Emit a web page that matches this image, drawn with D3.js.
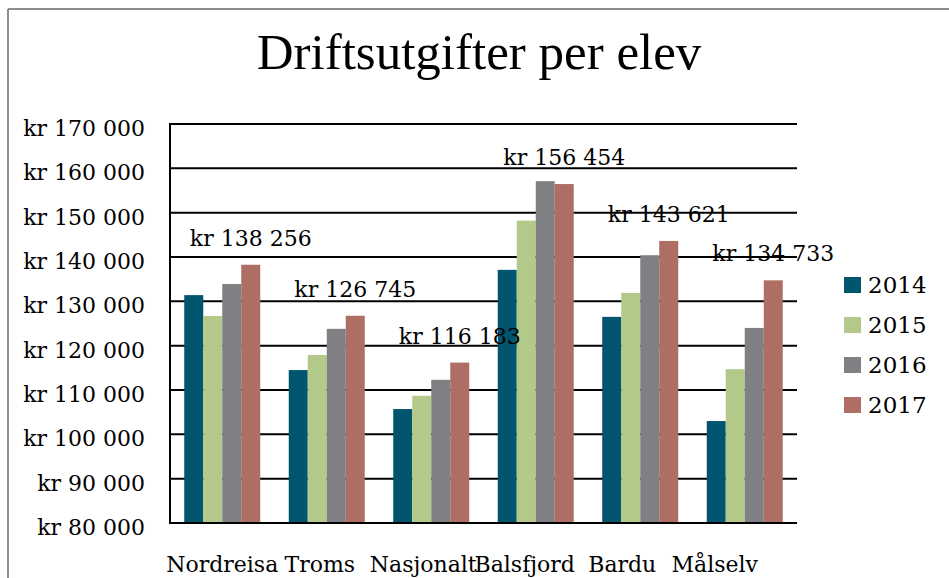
<!DOCTYPE html>
<html>
<head>
<meta charset="utf-8">
<script src="https://cdn.jsdelivr.net/npm/d3@7"></script>
<style>
    body { margin: 0; background: #fff; }
    svg { display: block; }
    text { font-family: 'DejaVu Serif', serif; fill: #000; }
</style>
</head>
<body>
<svg width="949" height="578"></svg>
<script>
// Data
const categories = ['Nordreisa', 'Troms', 'Nasjonalt', 'Balsfjord', 'Bardu', 'Målselv'];
const years = ['2014', '2015', '2016', '2017'];
const v2014 = [131400, 114500, 105700, 137100, 126500, 103000];
const v2015 = [126700, 117900, 108700, 148200, 131900, 114700];
const v2016 = [133900, 123800, 112300, 157100, 140400, 124000];
const v2017 = [138256, 126745, 116183, 156454, 143621, 134733];
const yTicks = [80000, 90000, 100000, 110000, 120000, 130000, 140000, 150000, 160000, 170000];
const colors = ['#02556e', '#b3c98a', '#7f7f84', '#ae6e64'];

(() => {
    const series = [v2014, v2015, v2016, v2017];

    // the original packs the category labels leftwards, nudge them to match
    const labelShift = [0, -7, -8, -11, -18, -30];

    const svg = d3.select('svg');

    // Chart frame (only top and left edges show)
    svg.append('line')
            .attr('x1', 8).attr('y1', 9).attr('x2', 949).attr('y2', 9)
            .attr('stroke', '#8c8c8c').attr('stroke-width', 2);
    svg.append('line')
            .attr('x1', 8).attr('y1', 9).attr('x2', 8).attr('y2', 578)
            .attr('stroke', '#8c8c8c').attr('stroke-width', 2);

    svg.append('text')
            .attr('x', 479)
            .attr('y', 69)
            .attr('text-anchor', 'middle')
            .style('font-family', "'Liberation Serif', serif")
            .style('font-size', '51px')
            .text('Driftsutgifter per elev');

    const x = d3.scaleBand()
            .domain(categories)
            .range([170, 797])
            .paddingInner(1.5 / 5.5)
            .paddingOuter(0.75 / 5.5);

    const xInner = d3.scaleBand()
            .domain(years)
            .range([0, x.bandwidth()]);

    const y = d3.scaleLinear()
            .domain([80000, 170000])
            .range([523, 124]);

    const fmt = v => 'kr ' + d3.format(',')(v).replace(/,/g, ' ');

    // Gridlines
    svg.append('g')
            .selectAll('line')
            .data(yTicks.slice(1))
            .enter().append('line')
            .attr('x1', 170).attr('x2', 797)
            .attr('y1', d => y(d)).attr('y2', d => y(d))
            .attr('stroke', '#000').attr('stroke-width', 2);

    // Y tick labels
    svg.append('g')
            .selectAll('text')
            .data(yTicks)
            .enter().append('text')
            .attr('x', 145)
            .attr('y', d => y(d) + 12)
            .attr('text-anchor', 'end')
            .style('font-size', '22px')
            .text(fmt);

    // Bars
    const groups = svg.append('g')
            .selectAll('g')
            .data(categories)
            .enter().append('g')
            .attr('transform', d => `translate(${x(d)},0)`);

    groups.selectAll('rect')
            .data((d, i) => series.map((s, k) => ({ year: years[k], value: s[i], k })))
            .enter().append('rect')
            .attr('x', d => xInner(d.year))
            .attr('width', xInner.bandwidth())
            .attr('y', d => y(d.value))
            .attr('height', d => y(80000) - y(d.value))
            .attr('fill', d => colors[d.k]);

    // Axes lines
    svg.append('line')
            .attr('x1', 170).attr('x2', 170).attr('y1', 123).attr('y2', 524)
            .attr('stroke', '#000').attr('stroke-width', 2);
    svg.append('line')
            .attr('x1', 169).attr('x2', 797).attr('y1', y(80000)).attr('y2', y(80000))
            .attr('stroke', '#000').attr('stroke-width', 2);

    // Data labels on 2017 bars
    svg.append('g')
            .selectAll('text')
            .data(categories)
            .enter().append('text')
            .attr('x', d => x(d) + xInner('2017') + xInner.bandwidth() / 2)
            .attr('y', (d, i) => y(v2017[i]) - 19)
            .attr('text-anchor', 'middle')
            .style('font-size', '22px')
            .text((d, i) => fmt(v2017[i]));

    // Category labels
    svg.append('g')
            .selectAll('text')
            .data(categories)
            .enter().append('text')
            .attr('x', (d, i) => x(d) + x.bandwidth() / 2 + labelShift[i])
            .attr('y', 572)
            .attr('text-anchor', 'middle')
            .style('font-size', '22px')
            .text(d => d);

    // Legend
    const legend = svg.append('g')
            .selectAll('g')
            .data(years)
            .enter().append('g')
            .attr('transform', (d, i) => `translate(844,${277 + i * 40})`);

    legend.append('rect')
            .attr('width', 17).attr('height', 16)
            .attr('fill', (d, i) => colors[i]);

    legend.append('text')
            .attr('x', 24)
            .attr('y', 16)
            .style('font-size', '23px')
            .text(d => d);
})();
</script>
</body>
</html>
